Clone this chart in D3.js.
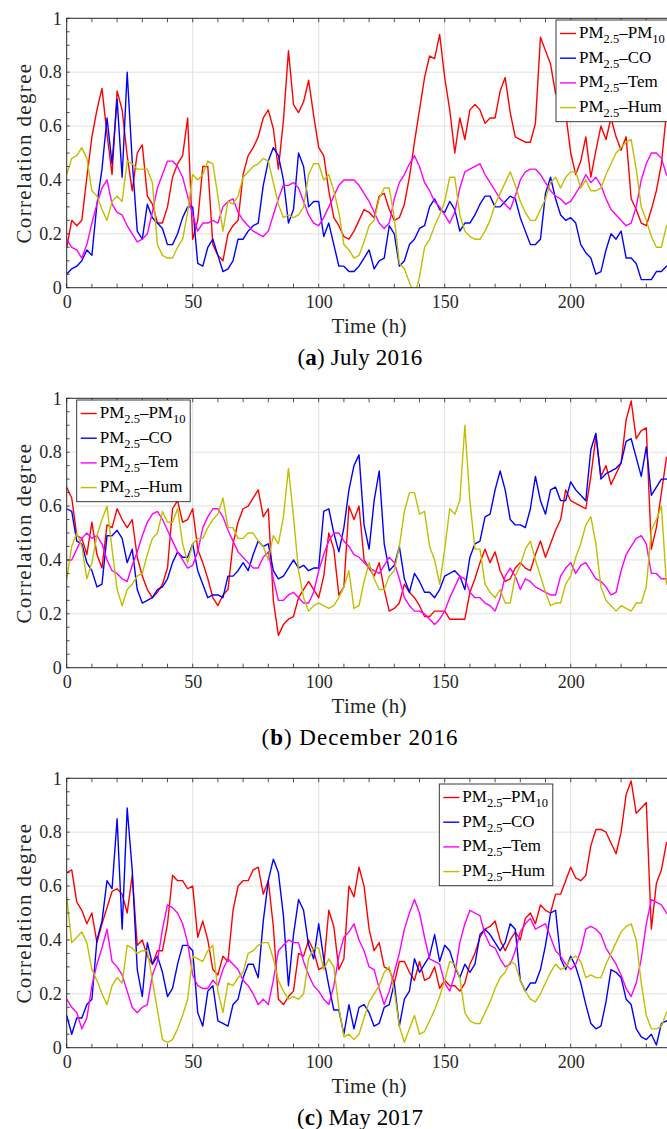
<!DOCTYPE html>
<html><head><meta charset="utf-8">
<script src="https://cdnjs.cloudflare.com/ajax/libs/d3/7.8.5/d3.min.js"></script>
<style>body{margin:0;background:#fff}svg{display:block}</style>
</head><body><svg id="chart" width="667" height="1129"></svg>
<script>
// ---- data (samples every 2 h, 0..240 h) ----
const hours = d3.range(0, 241, 2);

const aPM10 = [0.15,0.25,0.23,0.25,0.41,0.56,0.66,0.74,0.57,0.42,0.73,0.66,0.49,0.36,0.50,0.53,0.34,0.31,0.24,0.24,0.30,0.41,0.46,0.49,0.63,0.18,0.25,0.45,0.45,0.16,
 0.12,0.10,0.20,0.23,0.25,0.42,0.49,0.52,0.56,0.63,0.66,0.59,0.44,0.62,0.88,0.68,0.65,0.69,0.77,0.64,0.52,0.49,0.36,0.26,0.23,0.19,0.18,0.21,0.25,0.29,0.28,
 0.26,0.34,0.35,0.29,0.25,0.26,0.31,0.41,0.54,0.66,0.78,0.86,0.85,0.94,0.78,0.66,0.50,0.63,0.55,0.66,0.68,0.66,0.61,0.63,0.63,0.73,0.78,0.65,0.56,0.55,
 0.54,0.54,0.61,0.93,0.88,0.83,0.72,0.72,0.65,0.50,0.42,0.47,0.56,0.41,0.51,0.60,0.55,0.63,0.56,0.51,0.56,0.33,0.29,0.24,0.23,0.29,0.36,0.46,0.65,0.68];
const aCO = [0.05,0.07,0.08,0.10,0.14,0.12,0.31,0.44,0.63,0.46,0.70,0.41,0.80,0.47,0.21,0.18,0.31,0.26,0.24,0.22,0.16,0.16,0.20,0.26,0.30,0.30,0.09,0.08,0.15,0.18,
 0.12,0.06,0.07,0.10,0.18,0.18,0.21,0.23,0.24,0.38,0.47,0.52,0.49,0.40,0.24,0.29,0.50,0.45,0.30,0.32,0.32,0.19,0.24,0.16,0.08,0.08,0.06,0.06,0.08,0.11,0.14,
 0.07,0.10,0.11,0.23,0.20,0.08,0.10,0.16,0.18,0.22,0.23,0.30,0.33,0.29,0.28,0.32,0.29,0.21,0.24,0.24,0.27,0.31,0.34,0.34,0.30,0.30,0.32,0.34,0.33,0.26,
 0.21,0.16,0.16,0.18,0.35,0.41,0.33,0.27,0.25,0.26,0.24,0.16,0.13,0.11,0.05,0.06,0.14,0.20,0.18,0.21,0.11,0.11,0.09,0.03,0.03,0.03,0.06,0.06,0.08,0.08];
const aTem = [0.18,0.15,0.14,0.11,0.16,0.24,0.31,0.37,0.40,0.31,0.28,0.27,0.23,0.20,0.17,0.18,0.20,0.28,0.37,0.42,0.47,0.47,0.45,0.41,0.34,0.27,0.21,0.24,0.24,0.25,
 0.24,0.30,0.32,0.33,0.28,0.25,0.23,0.21,0.20,0.19,0.21,0.27,0.33,0.38,0.38,0.39,0.37,0.32,0.27,0.24,0.23,0.26,0.30,0.34,0.38,0.40,0.40,0.40,0.38,0.35,0.32,
 0.28,0.24,0.22,0.24,0.33,0.39,0.42,0.46,0.49,0.45,0.39,0.36,0.32,0.30,0.27,0.24,0.28,0.37,0.43,0.44,0.45,0.46,0.42,0.39,0.36,0.33,0.31,0.29,0.34,0.40,
 0.43,0.44,0.44,0.42,0.39,0.36,0.34,0.33,0.31,0.32,0.35,0.38,0.42,0.39,0.41,0.38,0.33,0.29,0.27,0.25,0.23,0.24,0.30,0.40,0.46,0.50,0.50,0.48,0.42,0.40];
const aHum = [0.42,0.48,0.49,0.52,0.48,0.36,0.34,0.29,0.25,0.32,0.34,0.32,0.47,0.46,0.44,0.44,0.44,0.39,0.16,0.12,0.11,0.11,0.15,0.18,0.28,0.42,0.40,0.42,0.47,0.46,
 0.34,0.21,0.32,0.31,0.34,0.41,0.43,0.45,0.46,0.48,0.47,0.39,0.31,0.26,0.27,0.26,0.27,0.30,0.42,0.46,0.46,0.40,0.42,0.36,0.28,0.16,0.14,0.11,0.12,0.17,0.23,
 0.25,0.33,0.37,0.37,0.26,0.09,0.07,0.02,-0.03,0.04,0.15,0.18,0.23,0.27,0.32,0.41,0.41,0.27,0.21,0.19,0.18,0.18,0.21,0.25,0.31,0.35,0.39,0.43,0.38,0.32,
 0.28,0.25,0.25,0.29,0.33,0.39,0.41,0.37,0.41,0.43,0.43,0.37,0.40,0.36,0.36,0.37,0.42,0.46,0.50,0.52,0.54,0.55,0.44,0.30,0.25,0.19,0.15,0.15,0.23,0.25];

const bPM10 = [0.67,0.63,0.49,0.48,0.42,0.54,0.42,0.37,0.53,0.52,0.59,0.55,0.52,0.55,0.41,0.34,0.29,0.26,0.28,0.31,0.37,0.59,0.62,0.54,0.55,0.59,0.44,0.39,0.33,0.26,
 0.23,0.27,0.29,0.46,0.54,0.59,0.60,0.63,0.66,0.56,0.59,0.25,0.12,0.16,0.18,0.19,0.26,0.29,0.32,0.29,0.26,0.34,0.50,0.44,0.27,0.30,0.60,0.55,0.60,0.40,0.37,
 0.34,0.39,0.29,0.21,0.22,0.24,0.31,0.28,0.26,0.23,0.19,0.19,0.21,0.21,0.21,0.18,0.18,0.18,0.18,0.28,0.33,0.39,0.44,0.39,0.43,0.36,0.32,0.33,0.37,0.39,
 0.37,0.36,0.42,0.47,0.41,0.46,0.51,0.55,0.66,0.62,0.61,0.60,0.59,0.71,0.86,0.71,0.75,0.68,0.72,0.76,0.92,0.99,0.85,0.88,0.89,0.44,0.52,0.65,0.78,0.78];
const bCO = [0.59,0.58,0.47,0.46,0.39,0.36,0.30,0.31,0.49,0.49,0.51,0.48,0.39,0.44,0.29,0.24,0.25,0.26,0.29,0.30,0.33,0.39,0.43,0.41,0.41,0.46,0.36,0.31,0.26,0.27,
 0.27,0.26,0.34,0.34,0.36,0.39,0.36,0.42,0.47,0.45,0.46,0.36,0.33,0.34,0.37,0.40,0.37,0.38,0.36,0.37,0.37,0.58,0.59,0.50,0.43,0.52,0.66,0.75,0.79,0.53,0.44,
 0.62,0.73,0.46,0.36,0.38,0.45,0.33,0.28,0.35,0.32,0.28,0.28,0.26,0.29,0.34,0.35,0.36,0.34,0.29,0.41,0.46,0.47,0.56,0.57,0.66,0.73,0.66,0.55,0.53,0.53,
 0.52,0.59,0.71,0.62,0.57,0.66,0.67,0.62,0.62,0.69,0.66,0.64,0.62,0.81,0.87,0.70,0.72,0.73,0.74,0.76,0.84,0.85,0.78,0.71,0.82,0.64,0.67,0.70,0.70,0.71];
const bTem = [0.40,0.40,0.44,0.48,0.50,0.48,0.49,0.46,0.40,0.36,0.35,0.33,0.32,0.38,0.43,0.49,0.54,0.57,0.58,0.55,0.51,0.47,0.43,0.40,0.37,0.38,0.43,0.52,0.56,0.59,
 0.59,0.56,0.51,0.47,0.43,0.41,0.39,0.37,0.37,0.41,0.43,0.33,0.25,0.25,0.27,0.28,0.26,0.24,0.24,0.28,0.36,0.42,0.47,0.50,0.50,0.47,0.45,0.42,0.41,0.39,0.37,
 0.36,0.35,0.38,0.41,0.39,0.33,0.26,0.23,0.21,0.21,0.20,0.18,0.16,0.18,0.21,0.26,0.30,0.34,0.33,0.28,0.26,0.26,0.24,0.23,0.21,0.26,0.34,0.37,0.34,0.29,
 0.33,0.32,0.30,0.29,0.28,0.27,0.27,0.34,0.37,0.39,0.35,0.38,0.39,0.36,0.33,0.32,0.30,0.27,0.28,0.36,0.42,0.45,0.48,0.49,0.46,0.35,0.35,0.33,0.33,0.33];
const bHum = [0.33,0.45,0.50,0.45,0.33,0.39,0.49,0.55,0.60,0.44,0.29,0.23,0.29,0.31,0.34,0.35,0.42,0.48,0.50,0.58,0.54,0.54,0.59,0.46,0.39,0.46,0.48,0.48,0.52,0.55,
 0.57,0.63,0.52,0.52,0.48,0.48,0.50,0.50,0.47,0.45,0.40,0.49,0.46,0.56,0.74,0.56,0.36,0.26,0.21,0.23,0.24,0.23,0.22,0.23,0.26,0.30,0.36,0.22,0.23,0.32,0.39,
 0.33,0.29,0.29,0.34,0.36,0.45,0.58,0.65,0.65,0.57,0.58,0.45,0.40,0.31,0.44,0.59,0.57,0.62,0.90,0.62,0.44,0.44,0.31,0.28,0.26,0.29,0.24,0.24,0.34,0.38,
 0.44,0.47,0.40,0.34,0.28,0.23,0.24,0.24,0.31,0.34,0.41,0.46,0.53,0.56,0.46,0.30,0.25,0.23,0.21,0.23,0.22,0.21,0.24,0.24,0.30,0.51,0.55,0.60,0.31,0.33];

const cPM10 = [0.65,0.66,0.54,0.51,0.46,0.50,0.39,0.46,0.52,0.58,0.59,0.57,0.50,0.64,0.38,0.40,0.34,0.31,0.36,0.36,0.46,0.64,0.62,0.62,0.59,0.60,0.41,0.47,0.40,0.29,
 0.27,0.34,0.32,0.51,0.60,0.62,0.62,0.66,0.67,0.57,0.62,0.45,0.18,0.16,0.19,0.21,0.35,0.34,0.40,0.36,0.29,0.30,0.51,0.45,0.29,0.33,0.60,0.56,0.67,0.60,0.44,
 0.36,0.39,0.30,0.29,0.24,0.32,0.32,0.28,0.25,0.32,0.25,0.26,0.30,0.22,0.25,0.23,0.23,0.21,0.24,0.31,0.35,0.41,0.44,0.45,0.47,0.40,0.36,0.40,0.43,0.40,
 0.48,0.50,0.46,0.53,0.51,0.50,0.57,0.57,0.62,0.67,0.63,0.62,0.64,0.75,0.81,0.81,0.80,0.76,0.72,0.80,0.94,0.99,0.87,0.89,0.91,0.44,0.61,0.66,0.76,0.78];
const cCO = [0.12,0.05,0.11,0.11,0.16,0.18,0.40,0.47,0.62,0.59,0.85,0.44,0.89,0.66,0.29,0.19,0.39,0.31,0.34,0.28,0.19,0.22,0.31,0.38,0.38,0.36,0.13,0.08,0.21,0.23,
 0.10,0.09,0.08,0.16,0.18,0.26,0.31,0.31,0.26,0.47,0.62,0.70,0.65,0.49,0.23,0.42,0.55,0.51,0.38,0.33,0.46,0.33,0.23,0.14,0.14,0.05,0.16,0.07,0.15,0.16,0.13,
 0.08,0.09,0.15,0.16,0.24,0.08,0.18,0.21,0.33,0.28,0.31,0.34,0.42,0.32,0.38,0.36,0.30,0.26,0.31,0.28,0.31,0.42,0.44,0.42,0.39,0.36,0.39,0.46,0.44,0.25,
 0.21,0.24,0.24,0.29,0.38,0.50,0.51,0.33,0.29,0.34,0.30,0.24,0.16,0.09,0.07,0.08,0.17,0.29,0.28,0.26,0.18,0.16,0.07,0.04,0.03,0.05,0.01,0.09,0.10,0.08];
const cTem = [0.18,0.15,0.13,0.07,0.11,0.23,0.31,0.37,0.44,0.32,0.30,0.27,0.21,0.15,0.13,0.15,0.16,0.27,0.32,0.44,0.53,0.52,0.50,0.46,0.39,0.27,0.23,0.22,0.22,0.25,
 0.23,0.29,0.33,0.31,0.29,0.25,0.23,0.20,0.16,0.18,0.16,0.25,0.36,0.38,0.40,0.39,0.39,0.32,0.27,0.23,0.21,0.18,0.16,0.23,0.34,0.41,0.43,0.46,0.40,0.36,0.30,
 0.29,0.22,0.16,0.21,0.28,0.35,0.44,0.50,0.55,0.50,0.41,0.33,0.32,0.31,0.24,0.21,0.27,0.39,0.46,0.51,0.50,0.49,0.42,0.38,0.37,0.33,0.30,0.31,0.36,0.43,
 0.46,0.48,0.44,0.45,0.46,0.41,0.36,0.34,0.31,0.29,0.31,0.36,0.44,0.45,0.44,0.42,0.37,0.34,0.31,0.27,0.22,0.19,0.24,0.33,0.46,0.55,0.54,0.53,0.50,0.48];
const cHum = [0.56,0.39,0.41,0.43,0.39,0.29,0.25,0.20,0.16,0.23,0.26,0.24,0.38,0.37,0.35,0.36,0.36,0.25,0.14,0.03,0.02,0.03,0.07,0.12,0.18,0.34,0.33,0.32,0.36,0.38,
 0.21,0.13,0.24,0.23,0.26,0.28,0.35,0.36,0.38,0.39,0.39,0.33,0.25,0.21,0.18,0.19,0.18,0.20,0.33,0.37,0.37,0.29,0.33,0.30,0.15,0.04,0.05,0.03,0.05,0.11,0.17,
 0.20,0.23,0.28,0.30,0.21,0.08,0.02,0.07,0.12,0.05,0.06,0.10,0.14,0.19,0.25,0.32,0.31,0.26,0.13,0.10,0.09,0.09,0.13,0.17,0.22,0.26,0.28,0.32,0.31,0.25,
 0.21,0.18,0.17,0.20,0.24,0.28,0.31,0.29,0.30,0.33,0.34,0.32,0.26,0.27,0.26,0.26,0.31,0.35,0.39,0.43,0.45,0.46,0.40,0.24,0.12,0.07,0.07,0.08,0.13,0.15];

const xTicks = [0, 50, 100, 150, 200];
const yTicks = [0, 0.2, 0.4, 0.6, 0.8, 1];
const captionLetters = ["a", "b", "c"];
const captionTexts = ["July 2016", "December 2016", "May 2017"];
const legendNames = ["PM", "CO", "Tem", "Hum"];
const legendSubs = ["10", "", "", ""];
const seriesColors = ["#ff0000", "#0000ff", "#ff00ff", "#bfbf00"];
const panelSeries = [[aPM10, aCO, aTem, aHum], [bPM10, bCO, bTem, bHum], [cPM10, cCO, cTem, cHum]];

// ---- layout ----
const FONT = "'Liberation Serif', 'Times New Roman', serif";
const INK = "#262626";
const left = 66.7, plotW = 604.8, plotH = 269.4;
const tops = [18.3, 398.3, 778.3];
const legendPos = [[556, 20], [76.7, 400], [439.3, 784]];
const legendW = 113.5, legendH = 101.7;
const captionWidths = [125, 197, 126];

const svg = d3.select("#chart");
svg.append("rect").attr("width", 667).attr("height", 1129).attr("fill", "#fff");

const x = d3.scaleLinear().domain([0, 240]).range([left, left + plotW]);
const fmt = d => String(+d.toFixed(1));

function fitWidth(sel, target) {
  const node = sel.node();
  const w = node.getComputedTextLength();
  const n = node.textContent.length;
  if (n > 1) sel.attr("letter-spacing", ((target - w) / n).toFixed(2));
}

panelSeries.forEach((series, p) => {
  const top = tops[p], bottom = top + plotH;
  const y = d3.scaleLinear().domain([0, 1]).range([bottom, top]);
  const g = svg.append("g");

  // grid
  g.append("g").selectAll("line").data(xTicks.filter(t => t > 0)).join("line")
    .attr("x1", d => x(d)).attr("x2", d => x(d)).attr("y1", top).attr("y2", bottom)
    .attr("stroke", "#e1e1e1").attr("stroke-width", 1);
  g.append("g").selectAll("line").data(yTicks.filter(t => t > 0 && t < 1)).join("line")
    .attr("x1", left).attr("x2", left + plotW).attr("y1", d => y(d)).attr("y2", d => y(d))
    .attr("stroke", "#e1e1e1").attr("stroke-width", 1);

  // clip
  const cid = "clip" + p;
  svg.append("clipPath").attr("id", cid).append("rect")
    .attr("x", left).attr("y", top).attr("width", plotW).attr("height", plotH);

  const line = d3.line().x((d, i) => x(hours[i])).y(d => y(d));
  g.append("g").attr("clip-path", `url(#${cid})`).selectAll("path").data(series).join("path")
    .attr("d", d => line(d)).attr("fill", "none")
    .attr("stroke", (d, i) => seriesColors[i]).attr("stroke-width", 1.4)
    .attr("stroke-linejoin", "round");

  // ticks (inward) – minor every 10 h and every 0.05
  const xt = d3.range(0, 241, 10), yt = d3.range(0, 1.0001, 0.05);
  const tk = g.append("g").attr("stroke", INK).attr("stroke-width", 0.8);
  xt.forEach(t => {
    tk.append("line").attr("x1", x(t)).attr("x2", x(t)).attr("y1", bottom).attr("y2", bottom - 4);
    tk.append("line").attr("x1", x(t)).attr("x2", x(t)).attr("y1", top).attr("y2", top + 4);
  });
  yt.forEach(t => {
    tk.append("line").attr("x1", left).attr("x2", left + 3).attr("y1", y(t)).attr("y2", y(t));
    tk.append("line").attr("x1", left + plotW).attr("x2", left + plotW - 3).attr("y1", y(t)).attr("y2", y(t));
  });

  // box
  g.append("rect").attr("x", left).attr("y", top).attr("width", plotW).attr("height", plotH)
    .attr("fill", "none").attr("stroke", INK).attr("stroke-width", 1);

  // tick labels via d3 axes
  const ax = g.append("g").attr("transform", `translate(0,${bottom})`)
    .call(d3.axisBottom(x).tickValues(xTicks).tickSize(0).tickPadding(8).tickFormat(fmt));
  const ay = g.append("g").attr("transform", `translate(${left},0)`)
    .call(d3.axisLeft(y).tickValues(yTicks).tickSize(0).tickPadding(5).tickFormat(fmt));
  [ax, ay].forEach(a => {
    a.select(".domain").remove();
    a.selectAll("text").attr("font-family", FONT).attr("font-size", 18).attr("fill", INK);
  });

  // axis titles
  const xl = g.append("text").attr("x", x(120)).attr("y", bottom + 45).attr("text-anchor", "middle")
    .attr("font-family", FONT).attr("font-size", 21).attr("fill", INK).text("Time (h)");
  fitWidth(xl, 75);
  const yl = g.append("text").attr("transform", `translate(31,${top + plotH / 2}) rotate(-90)`)
    .attr("text-anchor", "middle").attr("font-family", FONT).attr("font-size", 21).attr("fill", INK)
    .text("Correlation degree");
  fitWidth(yl, 181);

  // caption
  const cap = g.append("text").attr("x", 360).attr("y", bottom + 77).attr("text-anchor", "middle")
    .attr("font-family", FONT).attr("font-size", 23).attr("fill", "#000");
  cap.append("tspan").text("(");
  cap.append("tspan").attr("font-weight", "bold").text(captionLetters[p]);
  cap.append("tspan").text(") " + captionTexts[p]);
  fitWidth(cap, captionWidths[p]);

  // legend
  const [lx, ly] = legendPos[p];
  const lg = g.append("g");
  lg.append("rect").attr("x", lx).attr("y", ly).attr("width", legendW).attr("height", legendH)
    .attr("fill", "#fff").attr("stroke", INK).attr("stroke-width", 0.9);
  legendNames.forEach((nm, i) => {
    const yy = ly + 13.5 + 24.7 * i;
    lg.append("line").attr("x1", lx + 4).attr("x2", lx + 20).attr("y1", yy).attr("y2", yy)
      .attr("stroke", seriesColors[i]).attr("stroke-width", 1.4);
    const t = lg.append("text").attr("x", lx + 23).attr("y", yy + 4.5)
      .attr("font-family", FONT).attr("font-size", 17).attr("fill", "#000");
    t.append("tspan").text("PM");
    t.append("tspan").attr("font-size", 12.5).attr("dy", 5).text("2.5");
    t.append("tspan").attr("dy", -5).text("\u2013" + nm);
    if (legendSubs[i]) t.append("tspan").attr("font-size", 12.5).attr("dy", 5).text(legendSubs[i]);
  });
});
</script></body></html>
